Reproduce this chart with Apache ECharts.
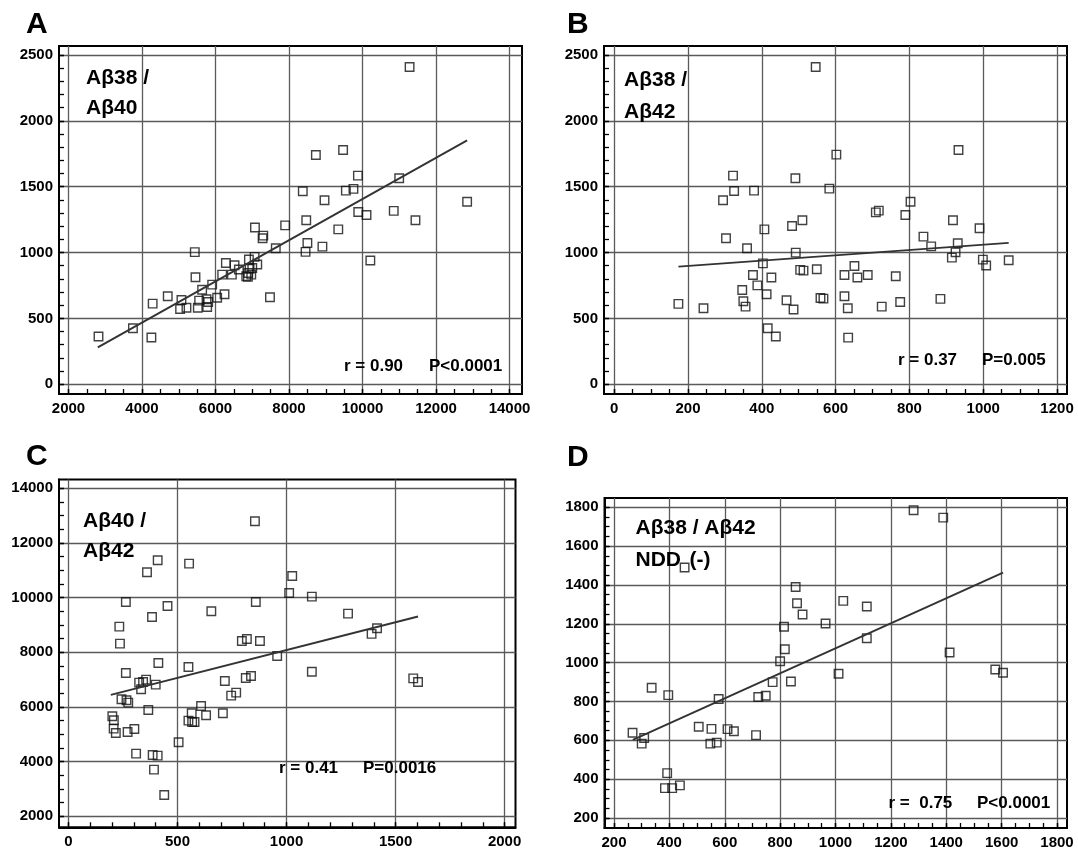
<!DOCTYPE html>
<html>
<head>
<meta charset="utf-8">
<script src="https://cdn.jsdelivr.net/npm/echarts@6.0.0/dist/echarts.min.js"></script>
<style>
html,body{margin:0;padding:0;background:#fff;}
#chart{width:1078px;height:850px;}
</style>
</head>
<body>
<div id="chart"></div>
<script>
// ---------- data ----------
// Panel A: Aβ40 (x) vs Aβ38 (y)
const aX = [2816,3753,4255,4290,4700,5073,5036,5209,5436,5455,5518,5554,5636,5755,5773,5800,5909,6045,6182,6245,6282,6445,6518,6636,6836,6881,6890,6909,6927,6973,7000,7064,7136,7073,7300,7281,7482,7640,7895,8375,8500,8450,8469,8731,8909,8966,9341,9472,9547,9753,9875,9884,10109,10213,10850,10998,11281,11441,12847];
const aY = [362,425,355,612,668,640,571,581,1003,812,581,635,718,645,586,625,756,657,832,683,921,832,904,871,820,815,845,947,876,832,883,967,909,1190,1128,1109,660,1033,1206,1465,1072,1005,1245,1741,1045,1397,1176,1779,1470,1483,1584,1308,1285,939,1316,1564,2409,1245,1386];
const aFitX = [2797,12847];
const aFitY = [280,1852];
const aXTicks = [2000,4000,6000,8000,10000,12000,14000];
const aYTicks = [0,500,1000,1500,2000,2500];

// Panel B: Aβ42 (x) vs Aβ38 (y)
const bX = [174,242,295,303,322,325,347,350,356,360,379,376,388,403,407,413,416,426,438,467,482,486,491,492,504,513,510,546,549,559,567,583,602,624,624,633,634,651,659,687,709,717,725,763,775,789,803,838,859,884,915,918,925,931,933,990,999,1008,1069];
const bY = [610,577,1397,1108,1584,1467,716,630,589,1032,1470,830,751,918,1176,683,425,810,362,638,1202,567,1564,999,868,863,1245,2409,873,655,650,1485,1743,830,668,577,354,898,810,830,1305,1318,589,820,625,1285,1386,1121,1047,648,961,1245,1002,1070,1779,1184,946,901,941];
const bFitX = [174,1069];
const bFitY = [893,1073];
const bXTicks = [0,200,400,600,800,1000,1200];
const bYTicks = [0,500,1000,1500,2000,2500];

// Panel C: Aβ42 (x) vs Aβ40 (y)
const cX = [409,360,553,855,1026,1012,1116,263,454,383,655,859,1282,233,236,795,818,878,957,1390,1415,412,550,263,1116,356,324,342,333,400,717,813,837,746,769,1581,1603,243,266,274,366,608,201,208,207,217,271,302,550,565,567,578,631,708,505,310,386,409,392,439];
const cY = [11366,10930,11244,12796,10790,10170,10036,9841,9695,9293,9500,9841,9416,8939,8317,8415,8488,8415,7866,8675,8881,7610,7463,7244,7289,7000,6890,6915,6646,6817,6951,7061,7134,6415,6524,7046,6912,6280,6244,6159,5890,6037,5659,5512,5207,5049,5085,5195,5500,5768,5451,5451,5695,5768,4707,4293,4244,4220,3707,2780];
const cFitX = [194,1603];
const cFitY = [6440,9310];
const cXTicks = [0,500,1000,1500,2000];
const cYTicks = [2000,4000,6000,8000,10000,12000,14000];

// Panel D: Aβ42 (x) vs Aβ38 (y), NDD(-)
const dX = [1282,1389,455,856,861,881,1028,1113,814,964,1113,817,1412,800,1011,1577,1605,773,839,721,748,578,336,396,267,309,300,506,552,610,633,548,571,713,392,384,410,438];
const dY = [1785,1747,1490,1390,1306,1248,1318,1289,1185,1202,1126,1069,1052,1007,943,965,948,900,903,823,830,813,871,833,639,612,583,670,659,658,647,583,588,627,431,354,354,368];
const dFitX = [268,1605];
const dFitY = [603,1464];
const dXTicks = [200,400,600,800,1000,1200,1400,1600,1800];
const dYTicks = [200,400,600,800,1000,1200,1400,1600,1800];

// minor tick steps
const minorSteps = {a:[500,100], b:[50,100], c:[100,500], d:[50,50]};

// ---------- layout ----------
const FONT = '"Liberation Sans", Arial, Helvetica, sans-serif';
const panels = [
  {key:'a', xs:aX, ys:aY, fx:aFitX, fy:aFitY, xt:aXTicks, yt:aYTicks,
   left:59, top:46, right:522, bottom:394, xMin:1741, xMax:14340, yMin:-74, yMax:2568},
  {key:'b', xs:bX, ys:bY, fx:bFitX, fy:bFitY, xt:bXTicks, yt:bYTicks,
   left:604, top:46, right:1067, bottom:394, xMin:-27.6, xMax:1227, yMin:-74, yMax:2568},
  {key:'c', xs:cX, ys:cY, fx:cFitX, fy:cFitY, xt:cXTicks, yt:cYTicks,
   left:59, top:479.5, right:515.5, bottom:827.3, xMin:-43.6, xMax:2050, yMin:1598, yMax:14322},
  {key:'d', xs:dX, ys:dY, fx:dFitX, fy:dFitY, xt:dXTicks, yt:dYTicks,
   left:604.5, top:498, right:1067, bottom:828.3, xMin:165.7, xMax:1836, yMin:148.6, yMax:1848}
];

function minors(ticks, step){
  const out = [];
  const end = ticks[ticks.length-1];
  for (let v = ticks[0]; v <= end + 1e-9; v += step) out.push(Math.round(v*1000)/1000);
  return out;
}
const plain = v => String(Math.round(v));

const grids = [], xAxes = [], yAxes = [], series = [];
panels.forEach((p, i) => {
  grids.push({left:p.left, top:p.top, width:p.right-p.left, height:p.bottom-p.top,
    show:true, borderColor:'#000', borderWidth:2, backgroundColor:'transparent', containLabel:false});
  const lab = {color:'#000', fontWeight:'bold', fontSize:15, fontFamily:FONT, formatter:plain};
  const [mx, my] = minorSteps[p.key];
  xAxes.push({gridIndex:i, type:'value', min:p.xMin, max:p.xMax, position:'bottom',
    axisLine:{show:true, onZero:false, lineStyle:{color:'#000', width:2}},
    axisTick:{show:true, inside:true, length:5, customValues:p.xt, lineStyle:{color:'#000', width:1.3}},
    axisLabel:Object.assign({customValues:p.xt, margin:7}, lab),
    splitLine:{show:true, lineStyle:{color:'#5a5a5a', width:1.3}}});
  xAxes.push({gridIndex:i, type:'value', min:p.xMin, max:p.xMax, position:'bottom',
    axisLine:{show:false, onZero:false},
    axisTick:{show:true, inside:true, length:5, customValues:minors(p.xt, mx), lineStyle:{color:'#000', width:1.3}},
    axisLabel:{show:false}, splitLine:{show:false}});
  yAxes.push({gridIndex:i, type:'value', min:p.yMin, max:p.yMax, position:'left',
    axisLine:{show:true, onZero:false, lineStyle:{color:'#000', width:2}},
    axisTick:{show:true, inside:true, length:5, customValues:p.yt, lineStyle:{color:'#000', width:1.3}},
    axisLabel:Object.assign({customValues:p.yt, margin:6}, lab),
    splitLine:{show:true, lineStyle:{color:'#5a5a5a', width:1.3}}});
  yAxes.push({gridIndex:i, type:'value', min:p.yMin, max:p.yMax, position:'left',
    axisLine:{show:false, onZero:false},
    axisTick:{show:true, inside:true, length:5, customValues:minors(p.yt, my), lineStyle:{color:'#000', width:1.3}},
    axisLabel:{show:false}, splitLine:{show:false}});
  series.push({type:'scatter', xAxisIndex:2*i, yAxisIndex:2*i,
    data:p.xs.map((x, k) => [x, p.ys[k]]),
    symbol:'rect', symbolSize:8.5,
    itemStyle:{color:'rgba(0,0,0,0)', borderColor:'#111', borderWidth:1.4},
    z:3});
  series.push({type:'line', xAxisIndex:2*i, yAxisIndex:2*i,
    data:p.fx.map((x, k) => [x, p.fy[k]]),
    showSymbol:false, symbol:'none', lineStyle:{color:'#333', width:1.9}, z:4});
});

function txt(x, y, text, size, align){
  return {type:'text', x:x, y:y, z:10, style:{text:text, fill:'#000',
    font:'bold ' + size + 'px ' + FONT, textAlign:align||'left', align:align||'left',
    textVerticalAlign:'middle', verticalAlign:'middle'}};
}

const graphics = [
  txt(26, 25, 'A', 30), txt(567, 25, 'B', 30), txt(26, 457, 'C', 30), txt(567, 458, 'D', 30),
  txt(86, 78, 'Aβ38 /', 21), txt(86, 108, 'Aβ40', 21),
  txt(624, 80.5, 'Aβ38 /', 21), txt(624, 112, 'Aβ42', 21),
  txt(83, 521.5, 'Aβ40 /', 21), txt(83, 551.5, 'Aβ42', 21),
  txt(635.5, 528.5, 'Aβ38 / Aβ42', 21), txt(635.5, 560, 'NDD', 21), txt(689.5, 560, '(-)', 21),
  txt(344, 366, 'r = 0.90', 17), txt(429, 366, 'P<0.0001', 17),
  txt(898, 360, 'r = 0.37', 17), txt(982, 360, 'P=0.005', 17),
  txt(279, 768, 'r = 0.41', 17), txt(363, 768, 'P=0.0016', 17),
  txt(888.5, 803, 'r =  0.75', 17), txt(977, 803, 'P<0.0001', 17)
];

const chart = echarts.init(document.getElementById('chart'), null, {renderer:'canvas'});
chart.setOption({
  animation:false,
  backgroundColor:'#fff',
  grid:grids, xAxis:xAxes, yAxis:yAxes, series:series,
  graphic:graphics
});
</script>
</body>
</html>
